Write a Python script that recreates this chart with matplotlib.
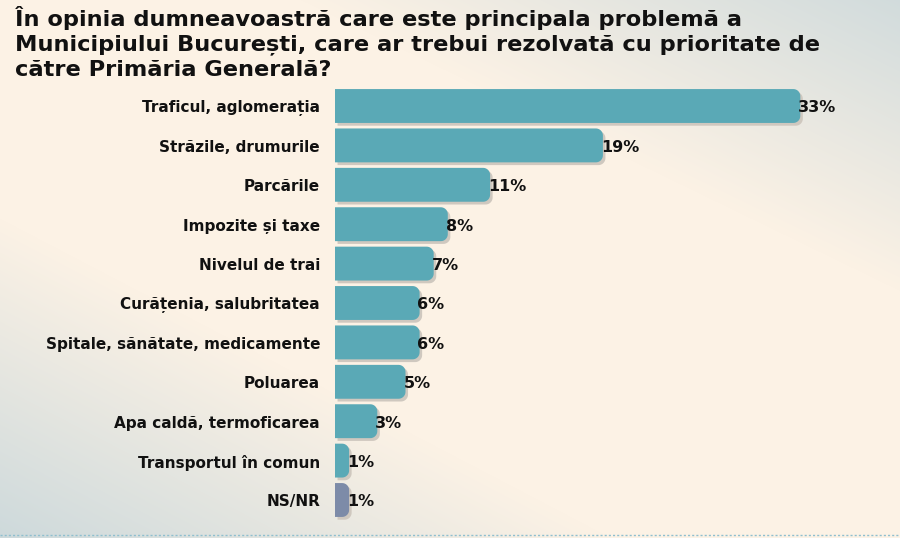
import matplotlib

matplotlib.use("Agg")

import matplotlib.pyplot as plt
import numpy as np
from matplotlib.lines import Line2D
from matplotlib.patches import Polygon

TITLE = ("În opinia dumneavoastră care este principala problemă a\n"
         "Municipiului București, care ar trebui rezolvată cu prioritate de\n"
         "către Primăria Generală?")

categories = [
    "Traficul, aglomerația",
    "Străzile, drumurile",
    "Parcările",
    "Impozite și taxe",
    "Nivelul de trai",
    "Curățenia, salubritatea",
    "Spitale, sănătate, medicamente",
    "Poluarea",
    "Apa caldă, termoficarea",
    "Transportul în comun",
    "NS/NR",
]
values = [33, 19, 11, 8, 7, 6, 6, 5, 3, 1, 1]

TEAL = "#5aa9b6"
SLATE = "#7d8ba8"
SHADOW = "#cfc8bf"
bar_colors = [TEAL] * 10 + [SLATE]

W, H = 900, 538
PX = 14.1          # pixels per percent
ROW = 39.4         # pixels per row
fig = plt.figure(figsize=(W / 100, H / 100), dpi=100)

# soft background: cream with bluish-grey wash top-right and bottom-left
bg = fig.add_axes([0, 0, 1, 1])
yy, xx = np.mgrid[0:1:H * 1j, 0:1:W * 1j]
cream = np.array([252, 242, 229]) / 255
blue = np.array([203, 216, 219]) / 255
w1 = np.clip(1.3 * (xx - 0.45) - 1.6 * yy + 0.15, 0, 1)
w2 = np.clip(1.6 * (yy - 0.5) - 1.4 * xx + 0.15, 0, 1)
w = np.clip(w1 + w2, 0, 1)[..., None]
img = cream * (1 - w) + blue * w
bg.imshow(img, aspect="auto", extent=[0, 1, 0, 1])
bg.set_axis_off()

ax = fig.add_axes([335 / W, (H - 519.7) / H, (W - 335) / W, 433.4 / H])
ax.patch.set_alpha(0)
pos = np.arange(len(categories))
ax.set_xlim(0, (W - 335) / PX)
ax.set_ylim(len(categories) - 0.5, -0.5)
ax.set_axis_off()


def rounded_bar(x0, width, yc, height, rpx=7):
    rx, ry = rpx / PX, rpx / ROW
    rx = min(rx, width / 2)
    y0, y1 = yc - height / 2, yc + height / 2
    t = np.linspace(0, np.pi / 2, 12)
    xe = x0 + width - rx
    top = [(xe + rx * np.sin(a), y0 + ry - ry * np.cos(a)) for a in t]
    bot = [(xe + rx * np.cos(a), y1 - ry + ry * np.sin(a)) for a in t]
    return [(x0, y0)] + top + bot + [(x0, y1)]


bh = 0.86
for p, v, col in zip(pos, values, bar_colors):
    ax.add_patch(Polygon(rounded_bar(0.18, v, p + 0.07, bh), closed=True,
                         fc=SHADOW, ec="none", zorder=1))
    ax.add_patch(Polygon(rounded_bar(0, v, p, bh), closed=True,
                         fc=col, ec="none", zorder=2))

for p, v, c in zip(pos, values, categories):
    ax.text(v - 0.15, p + 0.05, f"{v}%", ha="left", va="center", fontsize=11.5,
            fontweight="bold", family="DejaVu Sans", color="#111111", zorder=3)
    ax.text(-15 / PX, p + 0.05, c, ha="right", va="center", fontsize=11,
            fontweight="bold", family="DejaVu Sans", color="#111111", zorder=3)

fig.text(15 / W, 1 - 6 / H, TITLE, ha="left", va="top", fontsize=16.2,
         fontweight="bold", family="DejaVu Sans",
         color="#111111", linespacing=1.3)

fig.add_artist(Line2D([0, 1], [1 - 535 / H, 1 - 535 / H], transform=fig.transFigure,
                      color="#8fbfcf", linestyle=(0, (1.5, 1.5)), linewidth=1))

fig.savefig("out.png", dpi=100)
